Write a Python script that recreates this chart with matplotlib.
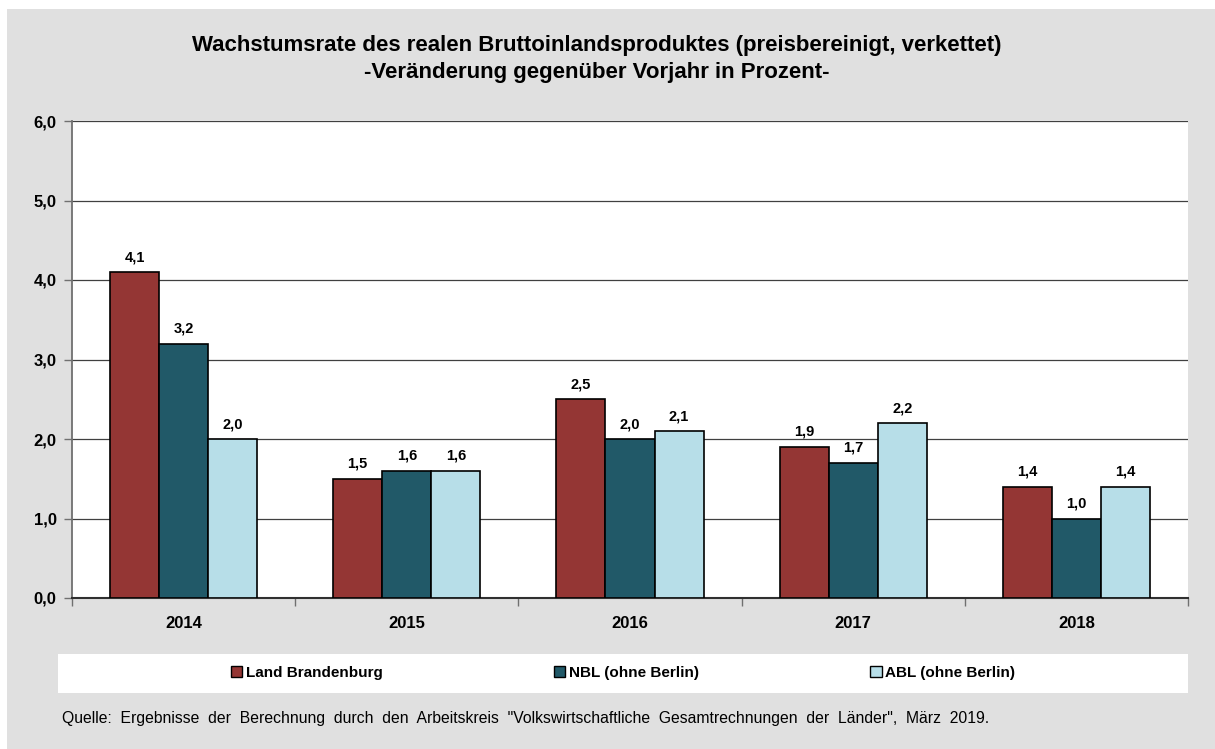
import matplotlib
matplotlib.use("Agg")
import matplotlib.pyplot as plt
from matplotlib.patches import Rectangle, Patch
from matplotlib.ticker import FuncFormatter, MultipleLocator
import numpy as np

years = ["2014", "2015", "2016", "2017", "2018"]
series_names = ["Land Brandenburg", "NBL (ohne Berlin)", "ABL (ohne Berlin)"]
brandenburg = [4.1, 1.5, 2.5, 1.9, 1.4]
nbl = [3.2, 1.6, 2.0, 1.7, 1.0]
abl = [2.0, 1.6, 2.1, 2.2, 1.4]
colors = ["#943634", "#215968", "#B7DEE8"]

title = ("Wachstumsrate des realen Bruttoinlandsproduktes (preisbereinigt, verkettet)\n"
         "-Veränderung gegenüber Vorjahr in Prozent-")
source = ('Quelle:  Ergebnisse  der  Berechnung  durch  den  Arbeitskreis  "Volkswirtschaftliche  '
          'Gesamtrechnungen  der  Länder",  März  2019.')

plt.rcParams['font.family'] = ['Liberation Sans Narrow', 'Liberation Sans', 'DejaVu Sans']

W, H = 1215, 749
fig = plt.figure(figsize=(W / 100, H / 100), dpi=100)
fig.patch.set_facecolor("white")

# gray chart background
fig.add_artist(Rectangle((7 / W, 0), 1 - 7 / W, 1 - 9 / H, transform=fig.transFigure,
                         facecolor="#E0E0E0", edgecolor="none", zorder=-10))
# white legend box
fig.add_artist(Rectangle((58 / W, 1 - 693 / H), (1188 - 58) / W, (693 - 654) / H,
                         transform=fig.transFigure, facecolor="white", edgecolor="none", zorder=-5))

left, right, top, bottom = 72, 1188, 121, 598
ax = fig.add_axes([left / W, 1 - bottom / H, (right - left) / W, (bottom - top) / H])
ax.set_facecolor("white")

x = np.arange(len(years))
bw = 0.22
data = [brandenburg, nbl, abl]
for i, (vals, c, name) in enumerate(zip(data, colors, series_names)):
    pos = x + (i - 1) * bw
    ax.bar(pos, vals, width=bw, color=c, edgecolor="black", linewidth=1.2,
           label=name, zorder=3)
    for xi, v in zip(pos, vals):
        ax.text(xi, v + 0.1, f"{v:.1f}".replace(".", ","), ha="center", va="bottom",
                fontsize=10.5, fontweight="bold", zorder=4)

ax.set_xlim(-0.5, len(years) - 0.5)
ax.set_ylim(0, 6)
ax.yaxis.set_major_locator(MultipleLocator(1))
ax.yaxis.set_major_formatter(FuncFormatter(lambda v, p: f"{v:.1f}".replace(".", ",")))
ax.grid(axis="y", color="#404040", linewidth=0.9, zorder=0)
ax.set_axisbelow(True)

ax.set_xticks(np.arange(-0.5, len(years), 1.0))
ax.set_xticklabels([])
ax.set_xticks(x, minor=True)
ax.set_xticklabels(years, minor=True)
ax.tick_params(axis="x", which="minor", length=0, pad=13, labelsize=12)
ax.tick_params(axis="x", which="major", length=6, width=1, color="#707070", direction="out")
ax.tick_params(axis="y", length=6, width=1, color="#707070", direction="out", pad=5, labelsize=12)
for lab in ax.get_xticklabels(minor=True) + ax.get_yticklabels():
    lab.set_fontweight("bold")

for side in ["top", "right"]:
    ax.spines[side].set_visible(False)
ax.spines["left"].set_color("#707070")
ax.spines["left"].set_linewidth(1.3)
ax.spines["bottom"].set_color("#303030")
ax.spines["bottom"].set_linewidth(1.5)

fig.text(597 / W, 1 - 59 / H, title, ha="center", va="center", fontsize=16,
         fontweight="bold", linespacing=1.4)

handles = [Patch(facecolor=c, edgecolor="black", linewidth=1) for c in colors]
fig.legend(handles, series_names, loc="center", bbox_to_anchor=(623 / W, 1 - 673 / H),
           ncol=3, frameon=False, handlelength=0.75, handleheight=0.75,
           handletextpad=0.25, columnspacing=11.2,
           prop={"weight": "bold", "size": 11})

fig.text(62 / W, 1 - 718 / H, source, ha="left", va="center", fontsize=11.3)

fig.savefig("out.png", dpi=100, facecolor=fig.get_facecolor())
